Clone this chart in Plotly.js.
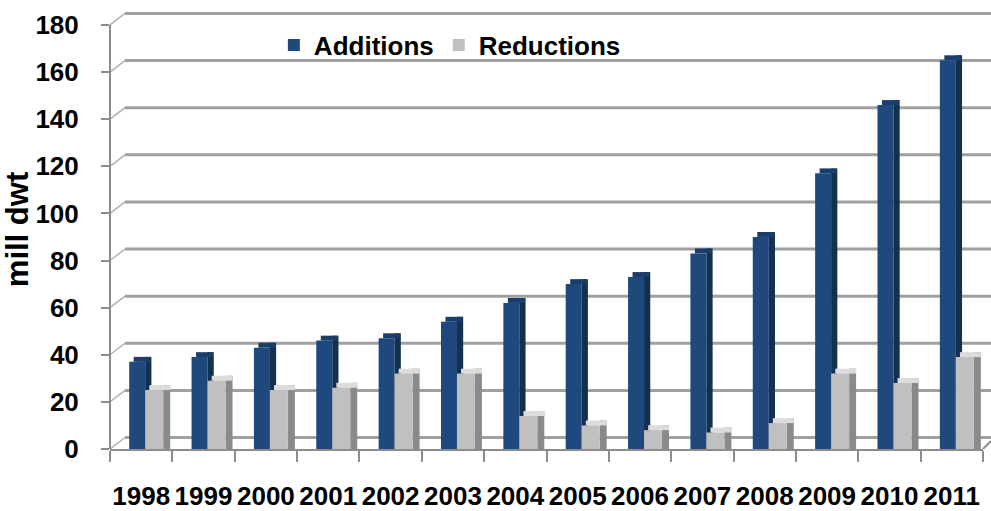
<!DOCTYPE html>
<html>
<head>
<meta charset="utf-8">
<script src="https://cdn.plot.ly/plotly-3.0.1.min.js"></script>
<style>html,body{margin:0;padding:0;background:#fff;}#chart{width:991px;height:511px;}</style>
</head>
<body>
<div id="chart"></div>
<script>
// ---- data ----
const years = ['1998','1999','2000','2001','2002','2003','2004','2005','2006','2007','2008','2009','2010','2011'];
const additions = [37, 39, 43, 46, 47, 54, 62, 70, 73, 83, 90, 117, 146, 165];
const reductions = [25, 29, 25, 26, 32, 32, 14, 10, 8, 7, 11, 32, 28, 39];
const yTicks = [0, 20, 40, 60, 80, 100, 120, 140, 160, 180];
const seriesNames = ['Additions', 'Reductions'];

// ---- style / pseudo-3D geometry ----
const DEPTH = 2.1;          // value units for 3D top face
const WALL_DY = 4.88;       // back-wall offset in value units
const WALL_DX = 15 / 881;   // back-wall offset in paper units
const FONT = 'Liberation Sans, Arial, sans-serif';
const AXIS_GRAY = '#8c8c8c';

function barTrace(y, opts) {
  return Object.assign({
    type: 'bar', x: years, y: y, xaxis: 'x', yaxis: 'y',
    marker: {line: {width: 0}}, hoverinfo: 'skip', showlegend: false
  }, opts);
}

const traces = [
  barTrace(additions.map(v => v + DEPTH), {offset: 0.064, width: 0.1, marker: {color: '#14304f', line: {width: 0}}}),
  barTrace(additions.map(() => DEPTH), {base: additions, offset: -0.12, width: 0.27, marker: {color: '#1a3e69', line: {width: 0}}}),
  barTrace(additions, {offset: -0.192, width: 0.257, marker: {color: '#1f497d', line: {width: 0}}, name: seriesNames[0], showlegend: true}),
  barTrace(reductions.map(v => v + DEPTH), {offset: 0.353, width: 0.112, marker: {color: '#8a8a8a', line: {width: 0}}}),
  barTrace(reductions.map(() => DEPTH), {base: reductions, offset: 0.13, width: 0.335, marker: {color: '#dcdcdc', line: {width: 0}}}),
  barTrace(reductions, {offset: 0.064, width: 0.289, marker: {color: '#c0c0c0', line: {width: 0}}, name: seriesNames[1], showlegend: true})
];

// back-wall gridlines and the little diagonal connectors
const shapes = [];
yTicks.forEach(v => {
  shapes.push({type: 'line', layer: 'below', xref: 'paper', yref: 'y', x0: WALL_DX, x1: 1, y0: v + WALL_DY, y1: v + WALL_DY,
    line: {color: '#a0a0a0', width: 3}});
  shapes.push({type: 'line', layer: 'below', xref: 'paper', yref: 'y', x0: 0, x1: WALL_DX, y0: v, y1: v + WALL_DY,
    line: {color: '#b0b0b0', width: 1.5}});
});
// front value axis line
shapes.push({type: 'line', layer: 'above', xref: 'paper', yref: 'y', x0: 0, x1: 0, y0: 0, y1: yTicks[yTicks.length - 1],
  line: {color: AXIS_GRAY, width: 2}});
// right floor edge
shapes.push({type: 'line', layer: 'below', xref: 'paper', yref: 'y', x0: 873 / 881, x1: 1, y0: 0, y1: WALL_DY * 0.7,
  line: {color: AXIS_GRAY, width: 2}});

const layout = {
  width: 991, height: 511,
  margin: {l: 110, r: 0, t: 10, b: 62},
  paper_bgcolor: '#ffffff', plot_bgcolor: 'rgba(0,0,0,0)',
  barmode: 'overlay',
  font: {family: FONT, color: '#000'},
  xaxis: {
    type: 'category', domain: [0, 873 / 881], range: [-0.5, 13.5],
    showline: true, linecolor: AXIS_GRAY, linewidth: 2,
    ticks: 'outside', tickson: 'boundaries', ticklen: 11, tickwidth: 2, tickcolor: AXIS_GRAY,
    showgrid: false, zeroline: false, tickangle: 0,
    tickfont: {family: FONT, size: 26, weight: 700, color: '#000'},
    ticklabelstandoff: 23, fixedrange: true
  },
  yaxis: {
    range: [0, 439 / 2.356], tickvals: yTicks, ticktext: yTicks.map(String),
    showline: false, showgrid: false, zeroline: false,
    ticks: 'outside', ticklen: 8, tickwidth: 2, tickcolor: AXIS_GRAY,
    tickfont: {family: FONT, size: 26, weight: 700, color: '#000'},
    ticklabelstandoff: 17,
    title: {text: 'mill dwt', font: {family: FONT, size: 31, weight: 700, color: '#000'}, standoff: 0},
    automargin: false, fixedrange: true
  },
  legend: {
    orientation: 'h', x: 0.186, xanchor: 'left', y: 0.92, yanchor: 'middle',
    bgcolor: 'rgba(0,0,0,0)', font: {family: FONT, size: 26, weight: 700, color: '#000'},
    traceorder: 'normal'
  },
  shapes: shapes,
  showlegend: true
};

Plotly.newPlot('chart', traces, layout, {displayModeBar: false, staticPlot: true});
</script>
</body>
</html>
